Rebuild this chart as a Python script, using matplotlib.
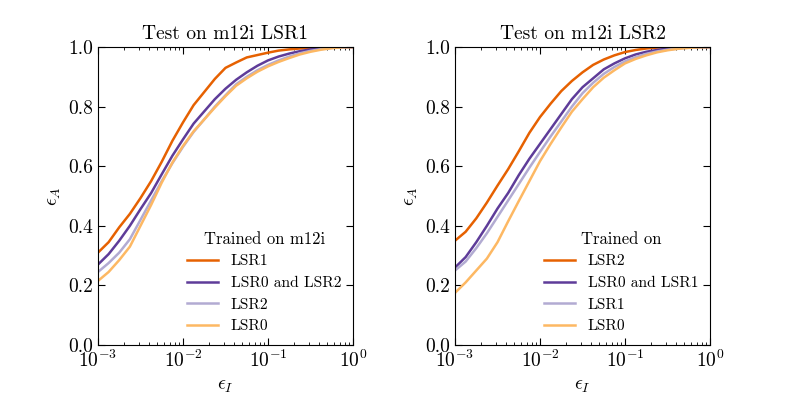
import numpy as np
import matplotlib
matplotlib.use('Agg')
import matplotlib.pyplot as plt

plt.rcParams['font.family'] = 'serif'
plt.rcParams['font.serif'] = ['cmr10', 'DejaVu Serif']
plt.rcParams['mathtext.fontset'] = 'cm'
plt.rcParams['axes.formatter.use_mathtext'] = True
plt.rcParams['axes.unicode_minus'] = False

# log10 of epsilon_I where the curves were read (1/8 decade steps)
log_eps_i = [-3, -2.875, -2.75, -2.625, -2.5, -2.375, -2.25, -2.125, -2,
             -1.875, -1.75, -1.625, -1.5, -1.375, -1.25, -1.125, -1,
             -0.875, -0.75, -0.625, -0.5, -0.375, -0.25, -0.125, 0]

# Test on m12i LSR1
lsr1_on_lsr1 = [0.31, 0.345, 0.395, 0.44, 0.493, 0.55, 0.615, 0.685, 0.747,
                0.805, 0.849, 0.893, 0.93, 0.948, 0.965, 0.973, 0.981,
                0.988, 0.992, 0.995, 0.997, 0.999, 1.0, 1.0, 1.0]
lsr0_lsr2_on_lsr1 = [0.27, 0.305, 0.35, 0.40, 0.456, 0.51, 0.573, 0.635, 0.69,
                     0.743, 0.784, 0.825, 0.86, 0.89, 0.915, 0.937, 0.955,
                     0.968, 0.978, 0.986, 0.992, 0.996, 0.999, 1.0, 1.0]
lsr2_on_lsr1 = [0.245, 0.275, 0.31, 0.355, 0.42, 0.485, 0.55, 0.61, 0.665,
                0.715, 0.757, 0.80, 0.838, 0.875, 0.90, 0.922, 0.94,
                0.955, 0.968, 0.979, 0.987, 0.993, 0.997, 0.999, 1.0]
lsr0_on_lsr1 = [0.215, 0.245, 0.285, 0.33, 0.40, 0.47, 0.545, 0.612, 0.668,
                0.717, 0.757, 0.797, 0.835, 0.87, 0.895, 0.917, 0.935,
                0.95, 0.963, 0.975, 0.984, 0.991, 0.996, 0.999, 1.0]

# Test on m12i LSR2
lsr2_on_lsr2 = [0.35, 0.38, 0.425, 0.478, 0.535, 0.59, 0.65, 0.712, 0.765,
                0.81, 0.852, 0.886, 0.915, 0.94, 0.958, 0.972, 0.983,
                0.99, 0.995, 0.998, 1.0, 1.0, 1.0, 1.0, 1.0]
lsr0_lsr1_on_lsr2 = [0.26, 0.295, 0.345, 0.40, 0.458, 0.51, 0.57, 0.625, 0.675,
                     0.725, 0.775, 0.825, 0.865, 0.895, 0.925, 0.945, 0.962,
                     0.975, 0.984, 0.99, 0.995, 0.998, 1.0, 1.0, 1.0]
lsr1_on_lsr2 = [0.25, 0.28, 0.325, 0.375, 0.43, 0.485, 0.54, 0.595, 0.648,
                0.70, 0.75, 0.80, 0.845, 0.88, 0.91, 0.933, 0.952,
                0.966, 0.977, 0.985, 0.991, 0.995, 0.998, 1.0, 1.0]
lsr0_on_lsr2 = [0.175, 0.21, 0.25, 0.29, 0.345, 0.415, 0.483, 0.55, 0.617,
                0.675, 0.73, 0.783, 0.825, 0.865, 0.897, 0.922, 0.945,
                0.96, 0.972, 0.982, 0.989, 0.994, 0.997, 0.999, 1.0]

colors = ['#e66101', '#5e3c99', '#b2abd2', '#fdb863']

panels = [
    ('Test on m12i LSR1', 'Trained on m12i',
     [lsr1_on_lsr1, lsr0_lsr2_on_lsr1, lsr2_on_lsr1, lsr0_on_lsr1],
     ['LSR1', 'LSR0 and LSR2', 'LSR2', 'LSR0']),
    ('Test on m12i LSR2', 'Trained on',
     [lsr2_on_lsr2, lsr0_lsr1_on_lsr2, lsr1_on_lsr2, lsr0_on_lsr2],
     ['LSR2', 'LSR0 and LSR1', 'LSR1', 'LSR0']),
]

x = 10.0 ** np.array(log_eps_i)

fig = plt.figure(figsize=(7.89, 3.95), dpi=100)
positions = [[0.1242, 0.1266, 0.3232, 0.7544], [0.5767, 0.1266, 0.3232, 0.7544]]

for pos, (title, leg_title, curves, labels) in zip(positions, panels):
    ax = fig.add_axes(pos)
    for y, c, lab in zip(curves, colors, labels):
        ax.plot(x, y, color=c, lw=1.8, label=lab)
    ax.set_xscale('log')
    ax.set_xlim(1e-3, 1)
    ax.set_ylim(0, 1)
    ax.set_yticks([0, 0.2, 0.4, 0.6, 0.8, 1.0])
    ax.set_yticklabels(['0.0', '0.2', '0.4', '0.6', '0.8', '1.0'])
    ax.tick_params(which='both', direction='in', top=True, right=True, labelsize=14)
    ax.tick_params(which='major', length=5)
    ax.tick_params(which='minor', length=2.5)
    ax.set_title(title, fontsize=14)
    ax.set_xlabel(r'$\epsilon_I$', fontsize=14)
    ax.set_ylabel(r'$\epsilon_A$', fontsize=14)
    ax.legend(title=leg_title, loc='lower right', frameon=False,
              fontsize=11.2, title_fontsize=12, handlelength=2.0,
              borderaxespad=0.35)

plt.savefig('out.png', dpi=100)
